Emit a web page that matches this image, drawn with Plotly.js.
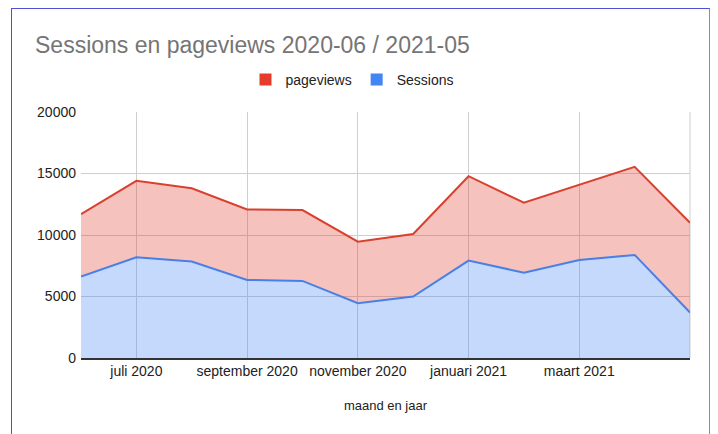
<!DOCTYPE html>
<html>
<head>
<meta charset="utf-8">
<script src="https://cdn.plot.ly/plotly-3.0.1.min.js"></script>
<style>
  html, body { margin: 0; padding: 0; background: #fff; }
  #wrap { position: relative; width: 718px; height: 434px; overflow: hidden; }
  #chart { width: 718px; height: 434px; }
  #frame { position: absolute; left: 11px; top: 8px; width: 697px; height: 440px;
           border: 1.5px solid #5050d2; border-right-color: #8585d8; pointer-events: none; }
</style>
</head>
<body>
<div id="wrap">
  <div id="chart"></div>
  <div id="frame"></div>
</div>
<script>
const months = ["juni 2020","juli 2020","augustus 2020","september 2020","oktober 2020","november 2020",
                "december 2020","januari 2021","februari 2021","maart 2021","april 2021","mei 2021"];
const pageviews = [11700, 14400, 13800, 12080, 12030, 9460, 10080, 14780, 12620, 14050, 15540, 11000];
const sessions  = [6620, 8190, 7840, 6350, 6270, 4460, 5000, 7920, 6940, 7970, 8380, 3700];
const xTickVals = ["juli 2020","september 2020","november 2020","januari 2021","maart 2021"];
const yTickVals = [0, 5000, 10000, 15000, 20000];

const font = "Liberation Sans, Arial, sans-serif";

const traces = [
  { x: months, y: sessions, type: "scatter", mode: "lines", name: "Sessions",
    line: { color: "#4a7fe6", width: 2 }, fill: "tozeroy", fillcolor: "rgba(66,133,244,0.31)",
    showlegend: false, hoverinfo: "x+y" },
  { x: months, y: pageviews, type: "scatter", mode: "lines", name: "pageviews",
    line: { color: "#d9412f", width: 2 }, fill: "tonexty", fillcolor: "rgba(226,66,52,0.32)",
    showlegend: false, hoverinfo: "x+y" },
  { x: [null], y: [null], type: "scatter", mode: "markers", name: "Sessions",
    marker: { symbol: "square", size: 12, color: "#4285f4" }, showlegend: true },
  { x: [null], y: [null], type: "scatter", mode: "markers", name: "pageviews",
    marker: { symbol: "square", size: 12, color: "#e53a2e" }, showlegend: true }
];

const layout = {
  width: 718, height: 434,
  margin: { l: 81, r: 28, t: 112, b: 76 },
  paper_bgcolor: "#fff", plot_bgcolor: "#fff",
  font: { family: font, size: 14, color: "#333" },
  title: { text: "Sessions en pageviews 2020-06 / 2021-05",
           font: { family: font, size: 23, color: "#757575" },
           x: 35/718, xanchor: "left", xref: "container", yref: "container",
           y: 1 - 45/434, yanchor: "middle" },
  showlegend: true,
  legend: { orientation: "h", traceorder: "reversed", x: 0.445, xanchor: "center",
            y: 1.13, yanchor: "middle", font: { family: font, size: 14, color: "#222" },
            itemwidth: 30, bgcolor: "rgba(0,0,0,0)" },
  xaxis: {
    type: "category", categoryarray: months, range: [0, 11],
    tickmode: "array", tickvals: xTickVals, ticktext: xTickVals,
    showgrid: true, gridcolor: "#cfcfcf", gridwidth: 1,
    showline: true, linecolor: "#333", linewidth: 1.5,
    ticks: "", tickfont: { family: font, size: 14, color: "#222" },
    title: { text: "maand en jaar", font: { family: font, size: 13, color: "#222" }, standoff: 22 },
    automargin: false
  },
  yaxis: {
    range: [0, 20000], tickmode: "array", tickvals: yTickVals, tickformat: "d",
    showgrid: true, gridcolor: "#cfcfcf", gridwidth: 1, zeroline: false,
    showline: false, ticks: "", ticklen: 0, ticklabelstandoff: 4,
    tickfont: { family: font, size: 14, color: "#222" }, automargin: false
  },
  shapes: [
    { type: "line", xref: "paper", yref: "paper", x0: 1, x1: 1, y0: 0, y1: 1,
      line: { color: "#cfcfcf", width: 1 }, layer: "below" }
  ]
};

Plotly.newPlot("chart", traces, layout, { displayModeBar: false, staticPlot: true });
</script>
</body>
</html>
